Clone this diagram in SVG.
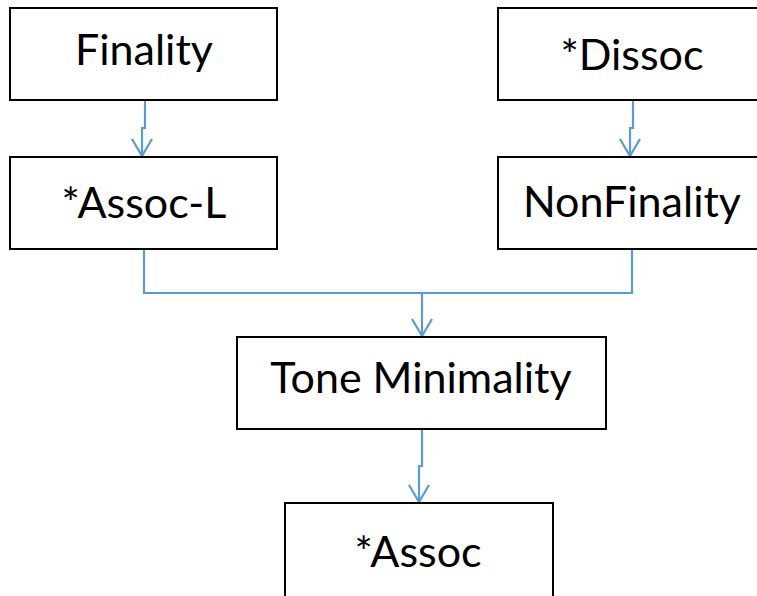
<svg xmlns="http://www.w3.org/2000/svg" width="757" height="596" viewBox="0 0 757 596">
<defs>
<style>
.box{fill:#fff;stroke:#000;stroke-width:2}
.lbl{font-family:Lato,"Open Sans","Liberation Sans",sans-serif;font-size:43px;font-weight:400;fill:#000;text-anchor:middle}
.con{fill:none;stroke:#5B9BD5;stroke-width:2.2}
</style>
<marker id="arr" markerWidth="20" markerHeight="22" viewBox="0 0 20 22" refX="18" refY="11" orient="auto" markerUnits="userSpaceOnUse">
<path d="M1,1 L18,11 L1,21" fill="none" stroke="#5B9BD5" stroke-width="2.2"/>
</marker>
</defs>
<rect width="757" height="596" fill="#fff"/>
<g id="connectors">
<path class="con" d="M145,101 V128 H142 V156" marker-end="url(#arr)"/>
<path class="con" d="M633,101 V128 H630 V156" marker-end="url(#arr)"/>
<path class="con" d="M144,250 V293 H632 V250"/>
<path class="con" d="M422,293 V336" marker-end="url(#arr)"/>
<path class="con" d="M422,430 V466 H419 V502" marker-end="url(#arr)"/>
</g>
<g id="finality">
<rect class="box" x="10" y="8" width="267" height="92"/>
<text class="lbl" x="144" y="65">Finality</text>
</g>
<g id="assoc-l">
<rect class="box" x="10" y="157" width="267" height="92"/>
<text class="lbl" x="144" y="218">*Assoc-L</text>
</g>
<g id="dissoc">
<rect class="box" x="498" y="8" width="290" height="92"/>
<text class="lbl" x="632" y="70">*Dissoc</text>
</g>
<g id="nonfinality">
<rect class="box" x="498" y="157" width="290" height="92"/>
<text class="lbl" x="632" y="217">NonFinality</text>
</g>
<g id="tone-minimality">
<rect class="box" x="237" y="337" width="369" height="92"/>
<text class="lbl" x="421" y="393">Tone Minimality</text>
</g>
<g id="assoc">
<rect class="box" x="285" y="503" width="268" height="100"/>
<text class="lbl" x="418" y="567">*Assoc</text>
</g>
</svg>
